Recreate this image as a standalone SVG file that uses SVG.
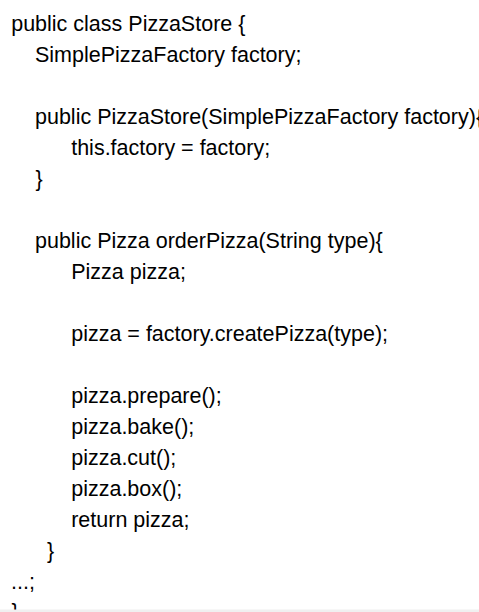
<svg xmlns="http://www.w3.org/2000/svg" width="479" height="612" viewBox="0 0 479 612">
<style>
text{font-family:"Liberation Sans",Arial,sans-serif;font-size:21.5px;fill:#000}
</style>
<rect width="479" height="612" fill="#fff"/>
<g id="code">
<text x="11.2" y="30.5">public class PizzaStore {</text>
<text x="35" y="61.5">SimplePizzaFactory factory;</text>
<text x="35" y="123.5">public PizzaStore(SimplePizzaFactory factory){</text>
<text x="71.2" y="154.5">this.factory = factory;</text>
<text x="35.4" y="185.5">}</text>
<text x="35" y="247.5">public Pizza orderPizza(String type){</text>
<text x="71.2" y="278.5">Pizza pizza;</text>
<text x="71.2" y="340.5">pizza = factory.createPizza(type);</text>
<text x="71.2" y="402.5">pizza.prepare();</text>
<text x="71.2" y="433.5">pizza.bake();</text>
<text x="71.2" y="464.5">pizza.cut();</text>
<text x="71.2" y="495.5">pizza.box();</text>
<text x="71.2" y="526.5">return pizza;</text>
<text x="47" y="557.5">}</text>
<text x="11" y="588.5">...;</text>
<text x="11.5" y="618.5">}</text>
</g>
<rect x="0" y="609.5" width="479" height="2.5" fill="#f0f0f0"/>
</svg>
